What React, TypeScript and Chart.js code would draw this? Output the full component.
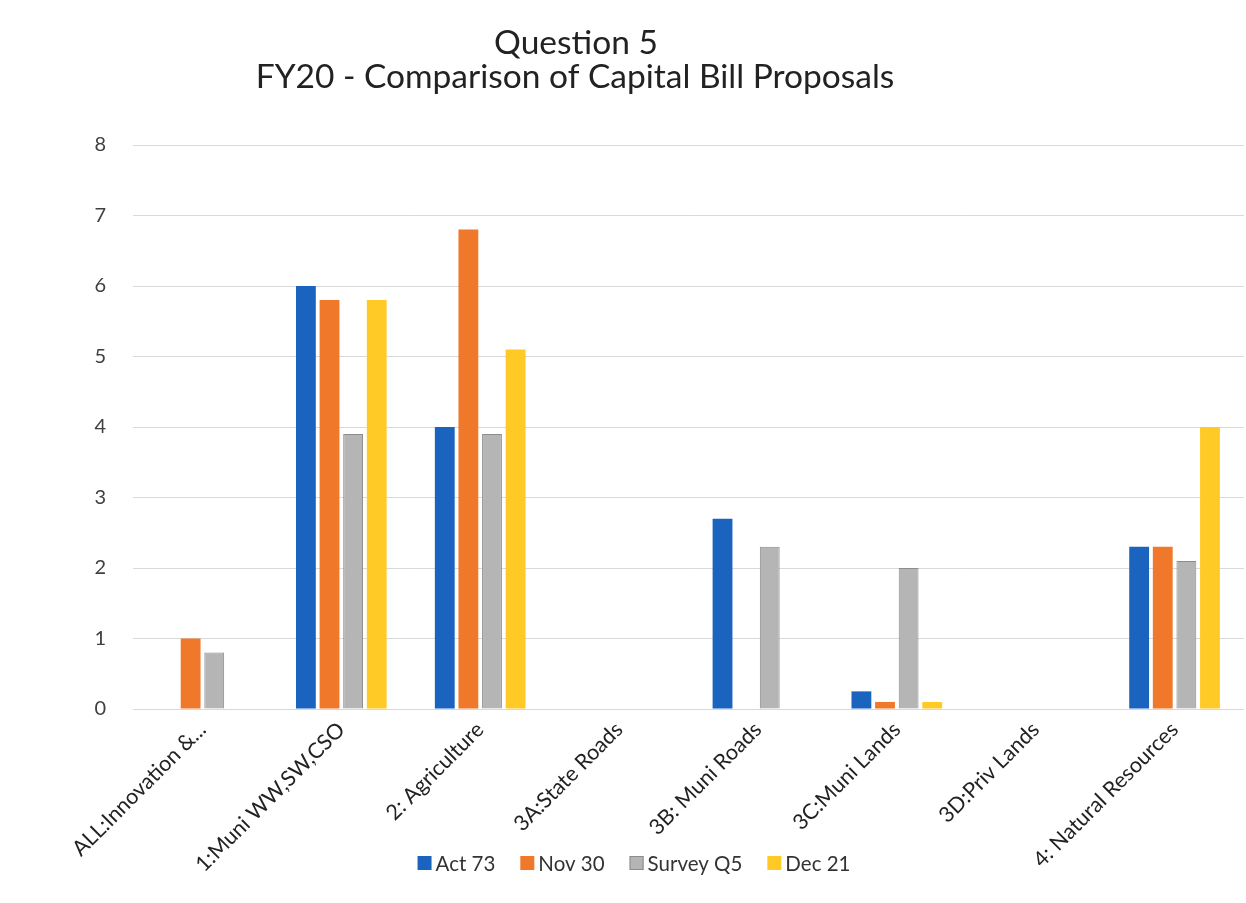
import React, { useEffect, useRef } from "react";
import { Chart, registerables } from "chart.js";

Chart.register(...registerables);

const categories = [
  "ALL:Innovation &...",
  "1:Muni WW,SW,CSO",
  "2: Agriculture",
  "3A:State Roads",
  "3B: Muni Roads",
  "3C:Muni Lands",
  "3D:Priv Lands",
  "4: Natural Resources",
];
const act73 = [null, 6.0, 4.0, null, 2.7, 0.25, null, 2.3];
const nov30 = [1.0, 5.8, 6.8, null, null, 0.1, null, 2.3];
const surveyQ5 = [0.8, 3.9, 3.9, null, 2.3, 2.0, null, 2.1];
const dec21 = [null, 5.8, 5.1, null, null, 0.1, null, 4.0];
const seriesNames = ["Act 73", "Nov 30", "Survey Q5", "Dec 21"];
const titleLines = ["Question 5", "FY20 - Comparison of Capital Bill Proposals"];
const yMin = 0;
const yMax = 8;
const yStep = 1;

const FONT = "Lato, 'Open Sans', sans-serif";
const colors = ["#1A63BE", "#F0782A", "#B5B5B5", "#FFC926"];
const borders = ["#1A63BE", "#F0782A", "#8C8C8C", "#FFC926"];

const titlePlugin = {
  id: "customTitle",
  afterDraw(chart: any) {
    const ctx = chart.ctx;
    ctx.save();
    ctx.fillStyle = "#222222";
    ctx.font = `33.5px ${FONT}`;
    ctx.textAlign = "center";
    ctx.textBaseline = "alphabetic";
    ctx.fillText(titleLines[0], 576, 54);
    ctx.fillText(titleLines[1], 575, 88);
    ctx.restore();
  },
};

const legendPlugin = {
  id: "customLegend",
  afterDraw(chart: any) {
    const ctx = chart.ctx;
    ctx.save();
    ctx.font = `20.5px ${FONT}`;
    ctx.textBaseline = "middle";
    ctx.textAlign = "left";
    const box = 14;
    const gap = 4;
    const spacing = 25;
    const widths = seriesNames.map((n) => ctx.measureText(n).width);
    const total =
      widths.reduce((a, b) => a + b, 0) + seriesNames.length * (box + gap) + spacing * (seriesNames.length - 1);
    let x = 634 - total / 2;
    const y = 863;
    seriesNames.forEach((name, i) => {
      ctx.fillStyle = colors[i];
      ctx.fillRect(x, y - box / 2, box, box);
      if (i === 2) {
        ctx.strokeStyle = borders[i];
        ctx.lineWidth = 1;
        ctx.strokeRect(x + 0.5, y - box / 2 + 0.5, box - 1, box - 1);
      }
      ctx.fillStyle = "#333333";
      ctx.fillText(name, x + box + gap, y + 1);
      x += box + gap + widths[i] + spacing;
    });
    ctx.restore();
  },
};

export default function App() {
  const ref = useRef<HTMLCanvasElement | null>(null);

  useEffect(() => {
    if (!ref.current) return;
    const series = [act73, nov30, surveyQ5, dec21];
    const chart = new Chart(ref.current, {
      type: "bar",
      data: {
        labels: categories,
        datasets: series.map((d, i) => ({
          label: seriesNames[i],
          data: d as any,
          backgroundColor: colors[i],
          borderColor: borders[i],
          borderWidth: i === 2 ? 1 : 0,
          categoryPercentage: 0.68,
          barPercentage: 0.84,
        })),
      },
      options: {
        animation: false,
        responsive: true,
        maintainAspectRatio: false,
        layout: { padding: { top: 145, right: 2, left: 0, bottom: 0 } },
        plugins: {
          legend: { display: false },
          title: { display: false },
          tooltip: { enabled: false },
        },
        scales: {
          y: {
            min: yMin,
            max: yMax,
            ticks: {
              stepSize: yStep,
              font: { size: 20, family: FONT },
              color: "#404040",
              padding: 27,
            },
            grid: { color: "#d9d9d9", drawTicks: false },
            border: { display: false },
            afterFit: (scale: any) => {
              scale.width = 133;
            },
          },
          x: {
            ticks: {
              minRotation: 45,
              maxRotation: 45,
              font: { size: 21.5, family: FONT },
              color: "#222222",
              padding: 0,
              autoSkip: false,
            },
            grid: { display: false },
            border: { display: false },
            afterFit: (scale: any) => {
              scale.height = 194;
            },
          },
        },
      },
      plugins: [titlePlugin, legendPlugin],
    });
    return () => chart.destroy();
  }, []);

  return (
    <div style={{ position: "fixed", left: 0, top: 0, width: 1246, height: 903, background: "#ffffff" }}>
      <canvas ref={ref} />
    </div>
  );
}
